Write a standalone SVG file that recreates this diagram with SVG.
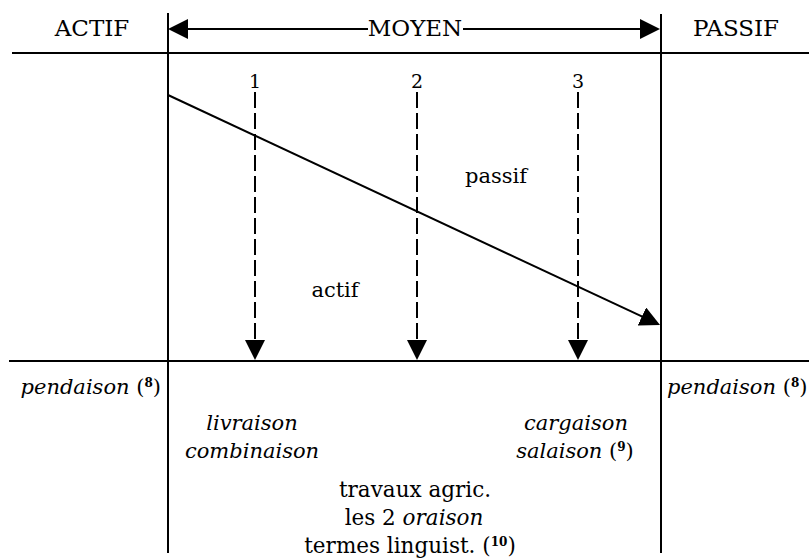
<svg xmlns="http://www.w3.org/2000/svg" width="809" height="560" viewBox="0 0 809 560">
<style>
  .ln { stroke: #000; stroke-width: 2; fill: none; }
  .dash { stroke: #000; stroke-width: 2; fill: none; stroke-dasharray: 16 5; }
  .hd { font-family: "DejaVu Serif", "Liberation Serif", serif; font-size: 23px; fill: #000; }
  .num { font-family: "DejaVu Serif", "Liberation Serif", serif; font-size: 19px; fill: #000; text-anchor: middle; }
  .lbl { font-family: "DejaVu Serif", "Liberation Serif", serif; font-size: 21px; fill: #000; }
  .it { font-family: "DejaVu Serif", "Liberation Serif", serif; font-size: 21px; font-style: italic; fill: #000; }
  .rg { font-family: "DejaVu Serif", "Liberation Serif", serif; font-size: 21.5px; fill: #000; }
  .sup { font-size: 12px; font-style: normal; font-weight: bold; }
  .up { font-style: normal; }
</style>
<defs>
  <marker id="arr" viewBox="0 0 20 20" refX="17" refY="10" markerWidth="20" markerHeight="20" markerUnits="userSpaceOnUse" orient="auto-start-reverse">
    <path d="M0,0 L20,10 L0,20 z" fill="#000"/>
  </marker>
</defs>

<g id="frame">
  <line class="ln" x1="12" y1="53" x2="809" y2="53"/>
  <line class="ln" x1="9" y1="361" x2="809" y2="361"/>
  <line class="ln" x1="168" y1="13" x2="168" y2="553"/>
  <line class="ln" x1="661" y1="14" x2="661" y2="553"/>
</g>

<g id="header">
  <text class="hd" x="92" y="36" text-anchor="middle">ACTIF</text>
  <text class="hd" x="415" y="36" text-anchor="middle">MOYEN</text>
  <text class="hd" x="736" y="36" text-anchor="middle">PASSIF</text>
</g>

<g id="connectors">
  <line class="ln" x1="171" y1="29" x2="368" y2="29" marker-start="url(#arr)"/>
  <line class="ln" x1="463" y1="29" x2="657" y2="29" marker-end="url(#arr)"/>
  <line class="ln" x1="168" y1="95" x2="657.3" y2="323.7" marker-end="url(#arr)"/>
  <line class="dash" x1="255" y1="92" x2="255" y2="357" marker-end="url(#arr)"/>
  <line class="dash" x1="417" y1="92" x2="417" y2="357" marker-end="url(#arr)"/>
  <line class="dash" x1="578" y1="92" x2="578" y2="357" marker-end="url(#arr)"/>
</g>

<g id="numbers">
  <text class="num" x="255" y="88">1</text>
  <text class="num" x="417" y="88">2</text>
  <text class="num" x="578" y="88">3</text>
</g>

<g id="zones">
  <text class="lbl" x="496" y="183" text-anchor="middle">passif</text>
  <text class="lbl" x="335" y="297" text-anchor="middle">actif</text>
</g>

<g id="left-col">
  <text class="it" x="161" y="394" text-anchor="end">pendaison<tspan class="up"> (</tspan><tspan class="sup" dy="-7">8</tspan><tspan class="up" dy="7">)</tspan></text>
</g>

<g id="right-col">
  <text class="it" x="667" y="394">pendaison<tspan class="up"> (</tspan><tspan class="sup" dy="-7">8</tspan><tspan class="up" dy="7">)</tspan></text>
</g>

<g id="group1">
  <text class="it" x="252" y="430" text-anchor="middle">livraison</text>
  <text class="it" x="252" y="458" text-anchor="middle">combinaison</text>
</g>

<g id="group3">
  <text class="it" x="576" y="430" text-anchor="middle">cargaison</text>
  <text class="it" x="575" y="458" text-anchor="middle">salaison<tspan class="up"> (</tspan><tspan class="sup" dy="-7">9</tspan><tspan class="up" dy="7">)</tspan></text>
</g>

<g id="group2">
  <text class="rg" x="415" y="497" text-anchor="middle">travaux agric.</text>
  <text class="rg" x="414" y="525" text-anchor="middle">les 2 <tspan font-style="italic">oraison</tspan></text>
  <text class="rg" x="410" y="553" text-anchor="middle">termes linguist. (<tspan class="sup" dy="-7">10</tspan><tspan dy="7">)</tspan></text>
</g>
</svg>
